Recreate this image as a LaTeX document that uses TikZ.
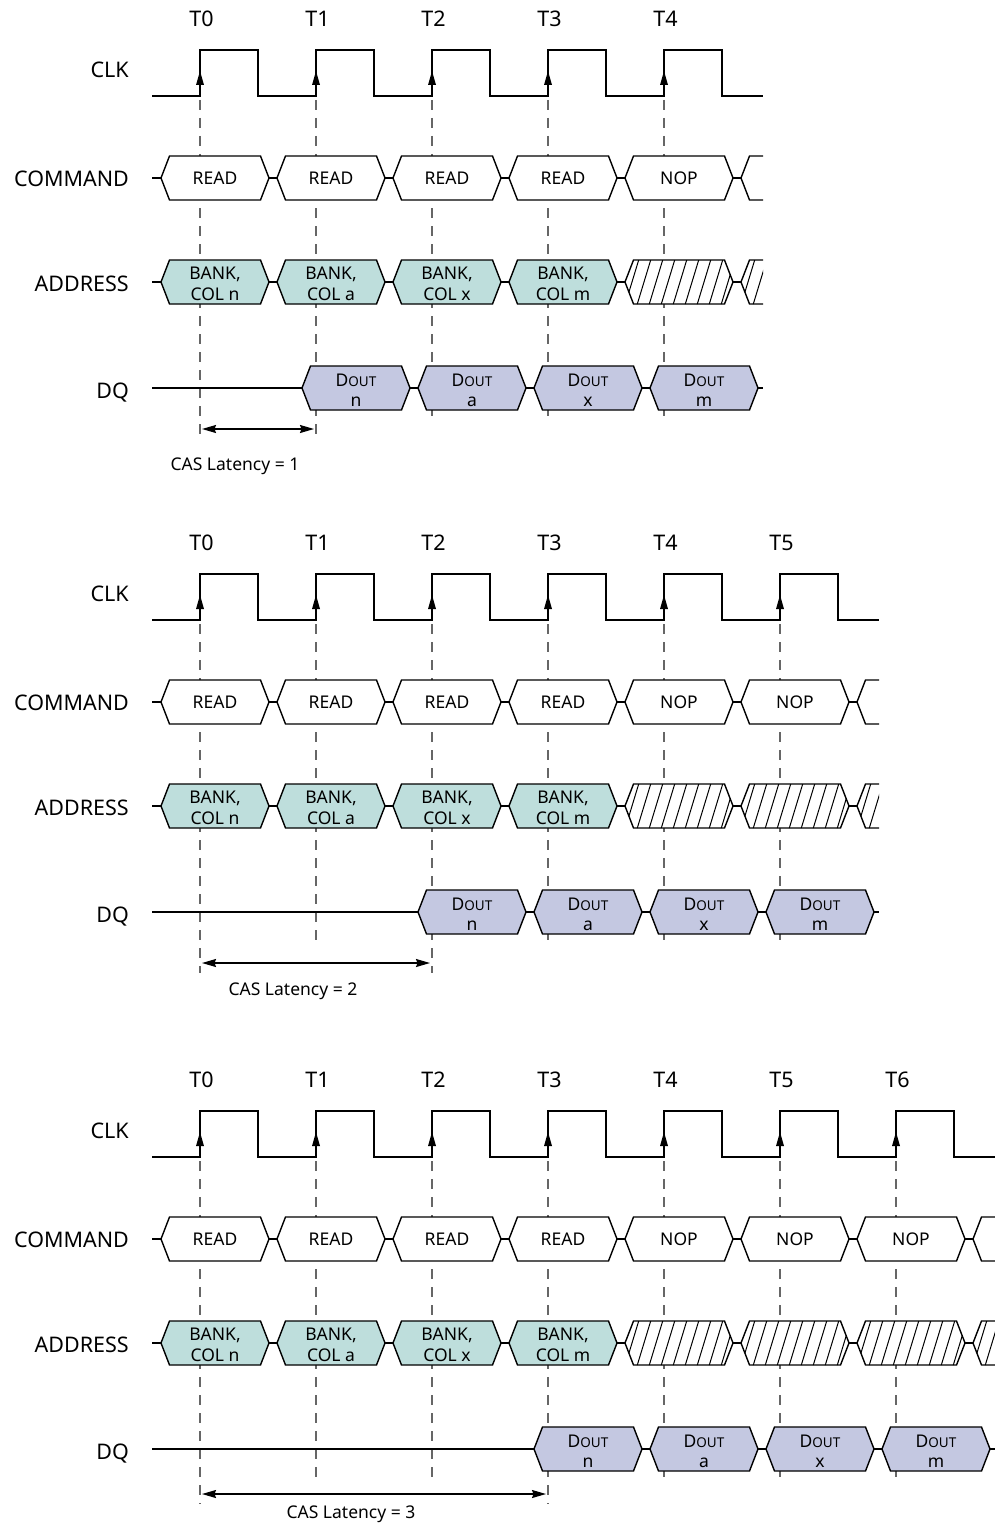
\documentclass[tikz,border=0pt]{standalone}
\usepackage{fontspec}
\setmainfont{Noto Sans}
\usetikzlibrary{arrows.meta}
\definecolor{addrfill}{HTML}{BEDEDC}
\definecolor{dqfill}{HTML}{C4C8E1}
\definecolor{tickgray}{HTML}{666666}
\tikzset{
  sig/.style={line width=1.4pt, black, line join=miter},
  tline/.style={tickgray, line width=1.1pt, dash pattern=on 10pt off 8pt},
  siglabel/.style={anchor=east, font=\fontsize{21.5}{24}\selectfont, inner sep=0pt},
  tlabel/.style={font=\fontsize{21.5}{24}\selectfont, inner sep=0pt},
  boxtext/.style={font=\fontsize{17.5}{21.5}\selectfont, align=center, inner sep=0pt},
  dqtext/.style={font=\fontsize{17.5}{20}\selectfont, align=center, inner sep=0pt},
  castext/.style={font=\fontsize{17.5}{20}\selectfont, inner sep=0pt, anchor=base},
  latarrow/.style={sig, {Stealth[length=14pt,width=8pt,inset=1.5pt]}-{Stealth[length=14pt,width=8pt,inset=1.5pt]}},
  hatchline/.style={line width=1pt, black},
}
\newcommand{\hexa}[3]{(#1,#3) -- (#1+8.5,#3-22) -- (#2-8.5,#3-22) -- (#2,#3) -- (#2-8.5,#3+22) -- (#1+8.5,#3+22) -- cycle}
\newcommand{\hatchin}[3]{%
  \begin{scope}
    \clip \hexa{#1}{#2}{#3};
    \foreach \k in {0,...,11}{
      \draw[hatchline] ({#1-12+12*\k},#3+23) -- ++(14,-46);
    }
  \end{scope}}
% #1 yoff, #2 last clock index, #3 latency, #4 xend, #5 arrow y, #6 text baseline y, #7 id
\newcommand{\tdiag}[7]{%
\begin{scope}[shift={(0,#1)}]
  \pgfmathtruncatemacro\lastT{#2}
  \pgfmathtruncatemacro\lat{#3}
  \pgfmathsetmacro\xend{#4}
  \pgfmathsetmacro\tl{200+116*\lat}
  % dashed reference lines
  \foreach \i in {0,...,\lastT}{
    \pgfmathsetmacro\tx{200+116*\i}
    \ifnum\i=0 \def\ye{#5+10}\else\ifnum\i=\lat\relax \def\ye{#5+10}\else\def\ye{419}\fi\fi
    \draw[tline] (\tx,100) -- (\tx,\ye);
  }
  % signal labels
  \node[siglabel] (clk#7) at (129,70) {CLK};
  \node[siglabel] (cmd#7) at (129,179) {COMMAND};
  \node[siglabel] (adr#7) at (129,284) {ADDRESS};
  \node[siglabel] (dq#7) at (129,393) {DQ};
  % clock
  \draw[sig] (152,96) \foreach \i in {0,...,\lastT}{ -- ({200+116*\i},96) -- ({200+116*\i},50) -- ({258+116*\i},50) -- ({258+116*\i},96) } -- (\xend,96);
  \foreach \i in {0,...,\lastT}{
    \pgfmathsetmacro\tx{200+116*\i}
    \fill (\tx,71) -- (\tx-4,85) -- (\tx+4,85) -- cycle;
    \node[tlabel] (T#7\i) at (\tx+1.5,19) {T\i};
  }
  % command row
  \draw[sig] (152,178) -- (161,178);
  \foreach \i in {0,...,\lastT}{
    \pgfmathsetmacro\tx{200+116*\i}
    \pgfmathsetmacro\xl{\tx-39}
    \pgfmathsetmacro\xr{\tx+69}
    \draw[sig,fill=white] \hexa{\xl}{\xr}{178};
    \draw[sig] (\xr,178) -- (\xr+8,178);
    \node[boxtext] (c#7\i) at (\tx+15,178) {\ifnum\i<4 READ\else NOP\fi};
  }
  \pgfmathsetmacro\xp{200+116*(\lastT+1)-39}
  \begin{scope}
    \clip (\xp-2,140) rectangle (\xend,220);
    \draw[sig,fill=white] \hexa{\xp}{\xp+108}{178};
  \end{scope}
  % address row
  \draw[sig] (152,282) -- (161,282);
  \foreach \i in {0,...,\lastT}{
    \pgfmathsetmacro\tx{200+116*\i}
    \pgfmathsetmacro\xl{\tx-39}
    \pgfmathsetmacro\xr{\tx+69}
    \ifnum\i<4
      \draw[sig,fill=addrfill] \hexa{\xl}{\xr}{282};
      \node[boxtext] (a#7\i) at (\tx+15,284) {BANK,\\COL \ifcase\i n\or a\or x\or m\fi};
    \else
      \fill[white] \hexa{\xl}{\xr}{282};
      \hatchin{\xl}{\xr}{282}
      \draw[sig] \hexa{\xl}{\xr}{282};
    \fi
    \draw[sig] (\xr,282) -- (\xr+8,282);
  }
  \begin{scope}
    \clip (\xp-2,240) rectangle (\xend,330);
    \fill[white] \hexa{\xp}{\xp+108}{282};
    \hatchin{\xp}{\xp+108}{282}
    \draw[sig] \hexa{\xp}{\xp+108}{282};
  \end{scope}
  % DQ row
  \draw[sig] (152,388) -- (\tl-14,388);
  \foreach \k in {0,...,3}{
    \pgfmathsetmacro\tx{\tl+116*\k}
    \pgfmathsetmacro\xl{\tx-14}
    \pgfmathsetmacro\xr{\tx+94}
    \draw[sig,fill=dqfill] \hexa{\xl}{\xr}{388};
    \ifnum\k<3
      \draw[sig] (\xr,388) -- (\xr+8,388);
    \else
      \draw[sig] (\xr,388) -- (\xend,388);
    \fi
    \node[dqtext] (d#7\k) at (\tx+40,390) {D{\fontsize{13.5}{15}\selectfont OUT}\\ \ifcase\k n\or a\or x\or m\fi};
  }
  % CAS latency
  \coordinate (ca#7) at (202,#5);
  \coordinate (cb#7) at (\tl-2,#5);
  \draw[latarrow] (ca#7) -- (cb#7);
  \node[castext] (lat#7) at ({(200+\tl)/2-23},#6) {CAS Latency = \lat};
\end{scope}}

\begin{document}
\begin{tikzpicture}[x=1pt,y=-1pt]
  \useasboundingbox[fill=white] (0,0) rectangle (995,1525);
  \tdiag{0}{4}{1}{763}{429}{470}{a}
  \tdiag{524}{5}{2}{879}{439}{471}{b}
  \tdiag{1061}{6}{3}{995}{433}{457}{c}
\end{tikzpicture}
\end{document}
